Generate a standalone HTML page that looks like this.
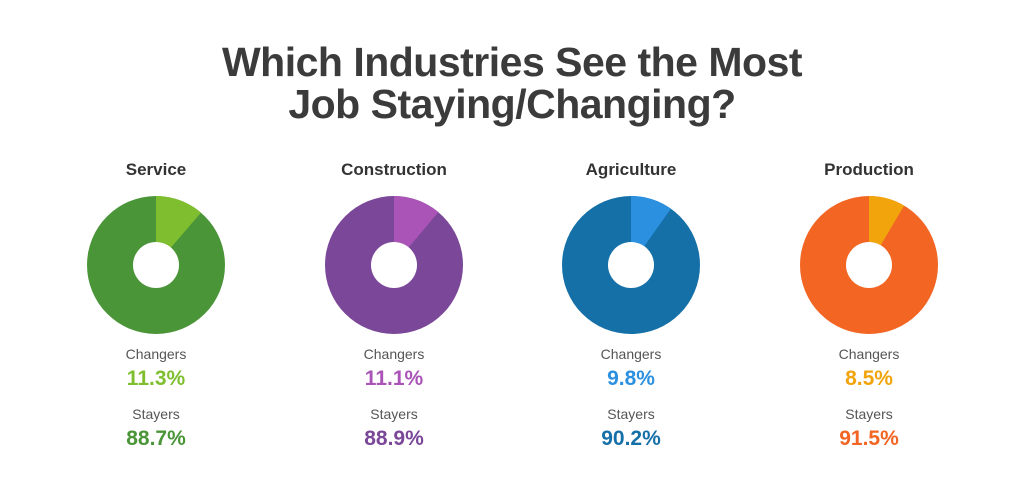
<!DOCTYPE html>
<html><head><meta charset="utf-8"><style>
html,body{margin:0;padding:0;background:#fff;}
body{width:1024px;height:491px;position:relative;overflow:hidden;font-family:"Liberation Sans",sans-serif;}
.t{position:absolute;left:0;width:1024px;text-align:center;font-weight:bold;color:#3b3b3b;font-size:41px;letter-spacing:-0.5px;}
.c{position:absolute;width:200px;text-align:center;}
.n{font-weight:bold;font-size:17px;color:#333;top:160px;}
.l{font-size:14px;color:#555;}
.v{font-size:21px;font-weight:bold;}
</style></head><body>
<div class="t" style="top:39px">Which Industries See the Most</div>
<div class="t" style="top:81px">Job Staying/Changing?</div>
<svg width="1024" height="491" style="position:absolute;left:0;top:0">
<g id="p"></g>
</svg>
<script>
var d=[[156,11.3,'#4b9539','#7fbf2f'],[394,11.1,'#7b4798','#a954b6'],[631,9.8,'#1570a8','#2c90e0'],[869,8.5,'#f26522','#f1a40b']];
var s='';var cy=265,R=69,r=23;
d.forEach(function(a){var cx=a[0],ang=a[1]/100*2*Math.PI;
var x1=cx+R*Math.sin(ang),y1=cy-R*Math.cos(ang),x2=cx+r*Math.sin(ang),y2=cy-r*Math.cos(ang);
s+='<circle cx="'+cx+'" cy="'+cy+'" r="'+R+'" fill="'+a[2]+'"/>';
s+='<path d="M'+cx+' '+(cy-R)+' A'+R+' '+R+' 0 0 1 '+x1+' '+y1+' L'+x2+' '+y2+' A'+r+' '+r+' 0 0 0 '+cx+' '+(cy-r)+'Z" fill="'+a[3]+'"/>';
s+='<circle cx="'+cx+'" cy="'+cy+'" r="'+r+'" fill="#fff"/>';});
document.getElementById('p').innerHTML=s;
</script>
<div class="c n" style="left:56px">Service</div>
<div class="c n" style="left:294px">Construction</div>
<div class="c n" style="left:531px">Agriculture</div>
<div class="c n" style="left:769px">Production</div>

<div class="c l" style="left:56px;top:346px">Changers</div>
<div class="c l" style="left:294px;top:346px">Changers</div>
<div class="c l" style="left:531px;top:346px">Changers</div>
<div class="c l" style="left:769px;top:346px">Changers</div>
<div class="c v" style="left:56px;top:367px;color:#7fbf2f">11.3%</div>
<div class="c v" style="left:294px;top:367px;color:#a954b6">11.1%</div>
<div class="c v" style="left:531px;top:367px;color:#2c90e0">9.8%</div>
<div class="c v" style="left:769px;top:367px;color:#f1a40b">8.5%</div>

<div class="c l" style="left:56px;top:406px">Stayers</div>
<div class="c l" style="left:294px;top:406px">Stayers</div>
<div class="c l" style="left:531px;top:406px">Stayers</div>
<div class="c l" style="left:769px;top:406px">Stayers</div>
<div class="c v" style="left:56px;top:427px;color:#4b9539">88.7%</div>
<div class="c v" style="left:294px;top:427px;color:#7b4798">88.9%</div>
<div class="c v" style="left:531px;top:427px;color:#1570a8">90.2%</div>
<div class="c v" style="left:769px;top:427px;color:#f26522">91.5%</div>
</body></html>
